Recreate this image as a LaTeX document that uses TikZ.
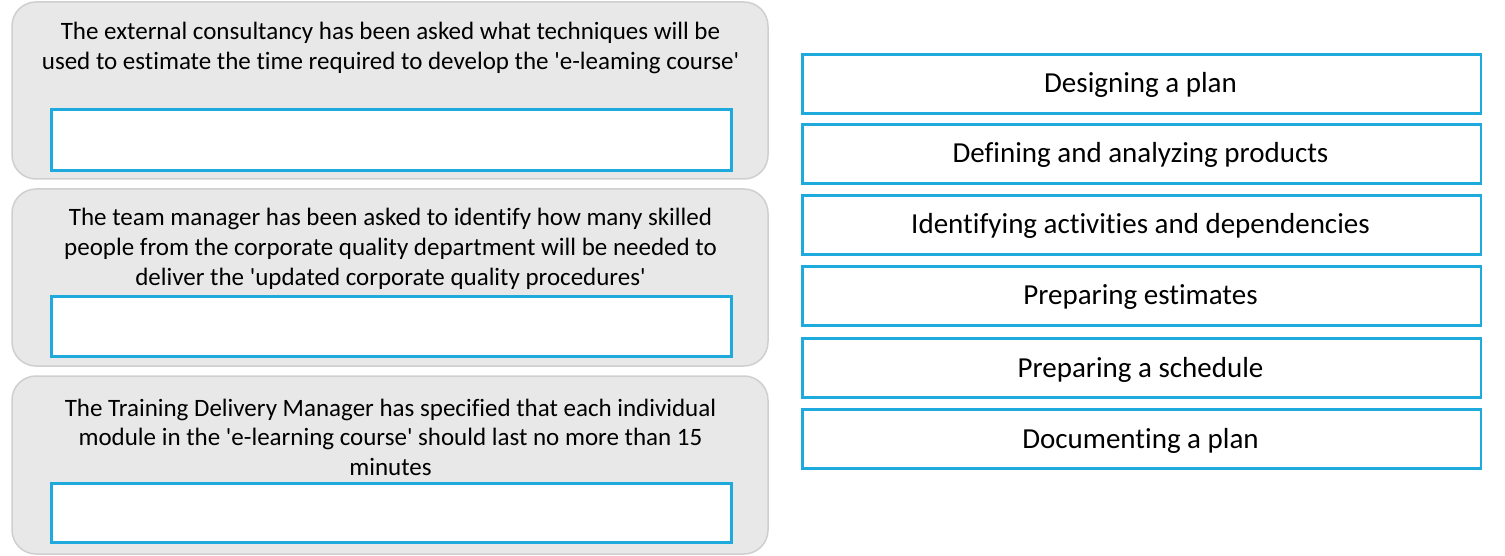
\documentclass[tikz,border=0pt]{standalone}
\usepackage{fontspec}
\setmainfont{Carlito}[Ligatures={NoCommon}]
\definecolor{panelfill}{HTML}{E8E8E8}
\definecolor{paneldraw}{HTML}{CFCFCF}
\definecolor{boxblue}{HTML}{1EAADC}
\newcommand{\sq}{\textquotesingle}
\tikzset{
  panel/.style={draw=paneldraw, line width=1.5pt, fill=panelfill, rounded corners=24pt},
  slot/.style={draw=boxblue, line width=2.5pt, fill=white, inner sep=0pt},
  qtext/.style={font=\fontsize{25}{30}\selectfont, anchor=base, inner sep=0pt},
  atext/.style={font=\fontsize{29}{34}\selectfont, anchor=base, inner sep=0pt},
}
\begin{document}
\begin{tikzpicture}[x=1pt,y=-1pt]
\useasboundingbox (0,0) rectangle (1505,556);
% panels
\draw[panel] (12,2) rectangle (768,179);
\draw[panel] (12,189) rectangle (768,366);
\draw[panel] (12,376) rectangle (768,554);
% slots
\node[slot, minimum width=680pt, minimum height=61pt, anchor=north west] (s1) at (50.25,108.25) {};
\node[slot, minimum width=680pt, minimum height=60pt, anchor=north west] (s2) at (50.25,295.25) {};
\node[slot, minimum width=680pt, minimum height=59pt, anchor=north west] (s3) at (50.25,482.25) {};
% question texts
\node[qtext] (q1a) at (390.5,40) {The external consultancy has been asked what techniques will be};
\node[qtext] (q1b) at (390.5,70) {used to estimate the time required to develop the \sq e-leaming course\sq};
\node[qtext] (q2a) at (390.5,226) {The team manager has been asked to identify how many skilled};
\node[qtext] (q2b) at (390.5,256) {people from the corporate quality department will be needed to};
\node[qtext] (q2c) at (390.5,286) {deliver the \sq updated corporate quality procedures\sq};
\node[qtext] (q3a) at (390.5,416) {The Training Delivery Manager has specified that each individual};
\node[qtext] (q3b) at (390.5,445) {module in the \sq e-learning course\sq\ should last no more than 15};
\node[qtext] (q3c) at (390.5,475) {minutes};
% answer boxes
\foreach \i/\y/\t in {1/52/Designing a plan, 2/122/Defining and analyzing products, 3/193/Identifying activities and dependencies, 4/264/Preparing estimates, 5/336/Preparing a schedule, 6/407/Documenting a plan}{
  \node[slot, minimum width=678.5pt, minimum height=59pt, anchor=north west] (a\i) at (801.25,\y+1.25) {};
  \node[atext] (t\i) at (1140.5,\y+41) {\t};
}
\end{tikzpicture}
\end{document}
